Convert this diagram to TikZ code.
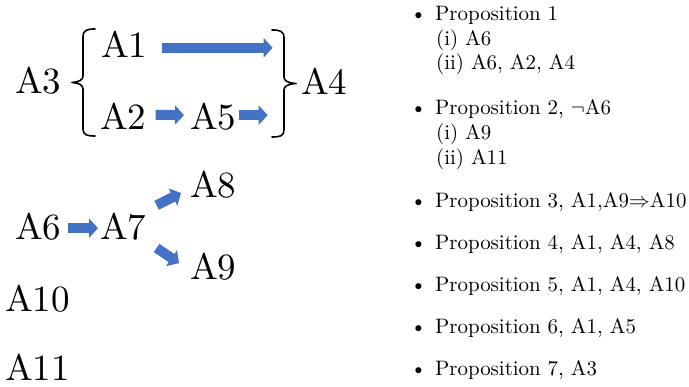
\documentclass[tikz,border=0pt]{standalone}
\usepackage{graphicx}
\usetikzlibrary{arrows.meta,calc}
\definecolor{arrowblue}{HTML}{4472C4}
\newcommand{\bigtxt}[1]{\scalebox{3.7}{#1}}
\newcommand{\listtxt}[1]{\scalebox{2.09}{#1}}
\begin{document}
\begin{tikzpicture}[x=1pt,y=-1pt,
  big/.style={inner sep=0pt, anchor=base west},
  itemtext/.style={inner sep=0pt, anchor=base west},
  bul/.style={inner sep=0pt, anchor=base},
  blk/.style={line width=10pt, draw=arrowblue, -{Triangle[length=9pt,width=19pt]}},
  bracestroke/.style={line width=1.6pt, line join=round, line cap=round}]
\useasboundingbox (0,0) rectangle (689,387);
% left diagram
\node[big] (A3) at (15,94) {\bigtxt{A3}};
\node[big] (A1) at (101,58) {\bigtxt{A1}};
\node[big] (A2) at (100,130) {\bigtxt{A2}};
\node[big] (A5) at (190,130) {\bigtxt{A5}};
\node[big] (A4) at (301,95) {\bigtxt{A4}};
\node[big] (A6) at (15,240) {\bigtxt{A6}};
\node[big] (A7) at (100,240) {\bigtxt{A7}};
\node[big] (A8) at (190,198) {\bigtxt{A8}};
\node[big] (A9) at (190,280) {\bigtxt{A9}};
\node[big] (A10) at (5,312) {\bigtxt{A10}};
\node[big] (A11) at (5,381) {\bigtxt{A11}};
% braces
\draw[bracestroke] (95,29) .. controls (87,29) and (83,30) .. (83,37) -- (83,76)
  .. controls (83,80) and (79,82) .. (72,82.5)
  .. controls (79,83) and (83,85) .. (83,89) -- (83,129)
  .. controls (83,135) and (87,136) .. (95,136);
\draw[bracestroke] (272,30) .. controls (280,30) and (284,31) .. (284,38) -- (284,77)
  .. controls (284,81) and (288,83) .. (296,83.5)
  .. controls (288,84) and (284,86) .. (284,90) -- (284,130)
  .. controls (284,136) and (280,137) .. (272,137);
% block arrows
\draw[blk] ($(A1.east)+(14,3)$) -- ($(A1.east)+(125,3)$);
\draw[blk] ($(A2.east)+(9,-2)$) -- ($(A5.west)+(-6,-2)$);
\draw[blk] ($(A5.east)+(2,-2)$) -- ($(A5.east)+(31,-2)$);
\draw[blk] ($(A6.east)+(6,1)$) -- ($(A7.west)+(-2,1)$);
\draw[blk] ($(A7.north east)+(10,-8)$) -- ($(A8.south west)+(-9,-6)$);
\draw[blk] ($(A7.south east)+(10,7)$) -- ($(A9.west)+(-11,-4)$);
% list
\node[bul] (b1) at (418.5,21) {\listtxt{\textbullet}};
\node[itemtext] (p1) at (435,21) {\listtxt{Proposition 1}};
\node[itemtext] (p1i) at (436,46) {\listtxt{(i) A6}};
\node[itemtext] (p1ii) at (436,70) {\listtxt{(ii) A6, A2, A4}};
\node[bul] (b2) at (418.5,115) {\listtxt{\textbullet}};
\node[itemtext] (p2) at (435,115) {\listtxt{Proposition 2, $\neg$A6}};
\node[itemtext] (p2i) at (436,140) {\listtxt{(i) A9}};
\node[itemtext] (p2ii) at (436,165) {\listtxt{(ii) A11}};
\node[bul] (b3) at (418.5,208) {\listtxt{\textbullet}};
\node[itemtext] (p3) at (435,208) {\listtxt{Proposition 3, A1,A9$\Rightarrow$A10}};
\node[bul] (b4) at (418.5,250) {\listtxt{\textbullet}};
\node[itemtext] (p4) at (435,250) {\listtxt{Proposition 4, A1, A4, A8}};
\node[bul] (b5) at (418.5,292) {\listtxt{\textbullet}};
\node[itemtext] (p5) at (435,292) {\listtxt{Proposition 5, A1, A4, A10}};
\node[bul] (b6) at (418.5,334) {\listtxt{\textbullet}};
\node[itemtext] (p6) at (435,334) {\listtxt{Proposition 6, A1, A5}};
\node[bul] (b7) at (418.5,376) {\listtxt{\textbullet}};
\node[itemtext] (p7) at (435,376) {\listtxt{Proposition 7, A3}};
\end{tikzpicture}
\end{document}
